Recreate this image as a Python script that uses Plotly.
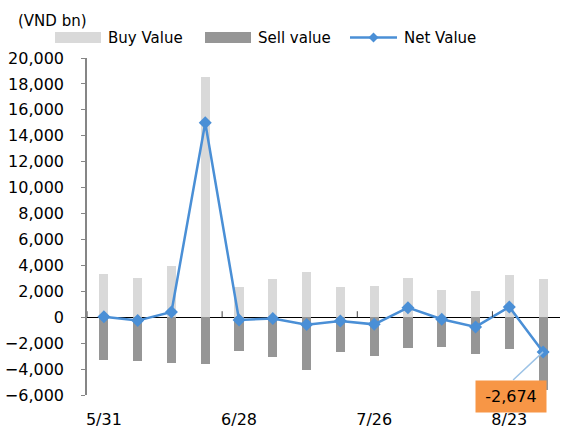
import plotly.graph_objects as go

dates = ["5/31", "6/7", "6/14", "6/21", "6/28", "7/5", "7/12", "7/19",
         "7/26", "8/2", "8/9", "8/16", "8/23", "8/30"]
buy_value = [3300, 3050, 3980, 18560, 2360, 2950, 3490, 2340, 2410, 3030, 2100, 2030, 3240, 2930]
sell_value = [-3290, -3340, -3550, -3600, -2570, -3060, -4060, -2650, -2960, -2340, -2270, -2810, -2470, -5600]
net_value = [30, -260, 410, 15000, -210, -100, -570, -290, -550, 740, -160, -750, 790, -2674]
y_ticks = list(range(-6000, 20001, 2000))
x_tick_labels = dates[::4]

W, H = 586, 428
L, R, T, B = 87, 26, 58, 33
PW, PH = W - L - R, H - T - B

BUY_C = "#D9D9D9"
SELL_C = "#969696"
NET_C = "#4A8FD6"
FONT = "DejaVu Sans"


def px(x):
    return (x - L) / PW


def py(y):
    return (H - B - y) / PH


fig = go.Figure()
fig.add_trace(go.Bar(x=dates, y=buy_value, name="Buy Value", marker_color=BUY_C,
                     width=0.27, marker_line_width=0))
fig.add_trace(go.Bar(x=dates, y=sell_value, name="Sell value", marker_color=SELL_C,
                     width=0.27, marker_line_width=0))
fig.add_trace(go.Scatter(x=dates, y=net_value, name="Net Value", mode="lines+markers",
                         line=dict(color=NET_C, width=2.5),
                         marker=dict(symbol="diamond", size=10, color=NET_C)))

shapes = []
# zero-line crossing tick marks at category group boundaries
for lab in x_tick_labels:
    k = dates.index(lab)
    shapes.append(dict(type="line", xref="x", yref="y", x0=k - 0.5, x1=k - 0.5,
                       ysizemode="pixel", yanchor=0, y0=0, y1=6,
                       line=dict(color="#404040", width=1)))

# custom legend
shapes.append(dict(type="rect", xref="paper", yref="paper", x0=px(55), x1=px(101),
                   y0=py(43), y1=py(32), fillcolor=BUY_C, line_width=0))
shapes.append(dict(type="rect", xref="paper", yref="paper", x0=px(205), x1=px(251),
                   y0=py(43), y1=py(32), fillcolor=SELL_C, line_width=0))
shapes.append(dict(type="line", xref="paper", yref="paper", x0=px(350), x1=px(397),
                   y0=py(37.5), y1=py(37.5), line=dict(color=NET_C, width=2.5)))
dcx, dcy, d = 373.5, 37.5, 5
shapes.append(dict(type="path", xref="paper", yref="paper",
                   path=f"M {px(dcx - d)},{py(dcy)} L {px(dcx)},{py(dcy - d)} "
                        f"L {px(dcx + d)},{py(dcy)} L {px(dcx)},{py(dcy + d)} Z",
                   fillcolor=NET_C, line_width=0))

annotations = [
    dict(xref="paper", yref="paper", x=px(16), y=py(21), xanchor="left", yanchor="middle",
         text="(VND bn)", showarrow=False, font=dict(size=15, color="#000", family=FONT)),
    dict(xref="paper", yref="paper", x=px(106), y=py(37.5), xanchor="left", yanchor="middle",
         text="Buy Value", showarrow=False, font=dict(size=15, color="#000", family=FONT)),
    dict(xref="paper", yref="paper", x=px(255.5), y=py(37.5), xanchor="left", yanchor="middle",
         text="Sell value", showarrow=False, font=dict(size=15, color="#000", family=FONT)),
    dict(xref="paper", yref="paper", x=px(401.5), y=py(37.5), xanchor="left", yanchor="middle",
         text="Net Value", showarrow=False, font=dict(size=15, color="#000", family=FONT)),
    # data label leader line
    dict(x=dates[-1], y=net_value[-1], xref="x", yref="y", text="", showarrow=True,
         arrowhead=0, arrowwidth=1.5, arrowcolor="#9DC3E6", ax=-31.5, ay=29.5, standoff=0),
    # data label box
    dict(x=dates[-1], y=net_value[-1], xref="x", yref="y",
         text=f"{net_value[-1]:,}", showarrow=False, xshift=-32, yshift=-45,
         bgcolor="#F79646", borderpad=5, width=60, height=21,
         font=dict(size=16, color="#000", family=FONT)),
]

fig.update_layout(
    width=W, height=H,
    margin=dict(l=L, r=R, t=T, b=B, pad=0, autoexpand=False),
    paper_bgcolor="white", plot_bgcolor="white",
    barmode="relative", bargap=0,
    showlegend=False,
    font=dict(family=FONT, size=16, color="#000"),
    shapes=shapes,
    annotations=annotations,
    xaxis=dict(type="category", tickmode="array", tickvals=x_tick_labels,
               ticktext=x_tick_labels, showline=False, showgrid=False, ticks="",
               ticklabelstandoff=13, automargin=False,
               tickfont=dict(size=16, family=FONT, color="#000"),
               range=[-0.5, len(dates) - 0.5]),
    yaxis=dict(range=[-6000, 20000], tickmode="array", tickvals=y_ticks,
               tickformat=",", showgrid=False, showline=True, linecolor="#868686",
               linewidth=1.5, ticks="outside", ticklen=4, tickcolor="#868686",
               tickwidth=1, ticklabelstandoff=14, zeroline=True, zerolinecolor="#000",
               zerolinewidth=1, layer="above traces", automargin=False,
               tickfont=dict(size=16, family=FONT, color="#000")),
)

fig.write_html("out.html", config={"displayModeBar": False},
               post_script="document.body.style.margin='0px';document.body.style.overflow='hidden';")
